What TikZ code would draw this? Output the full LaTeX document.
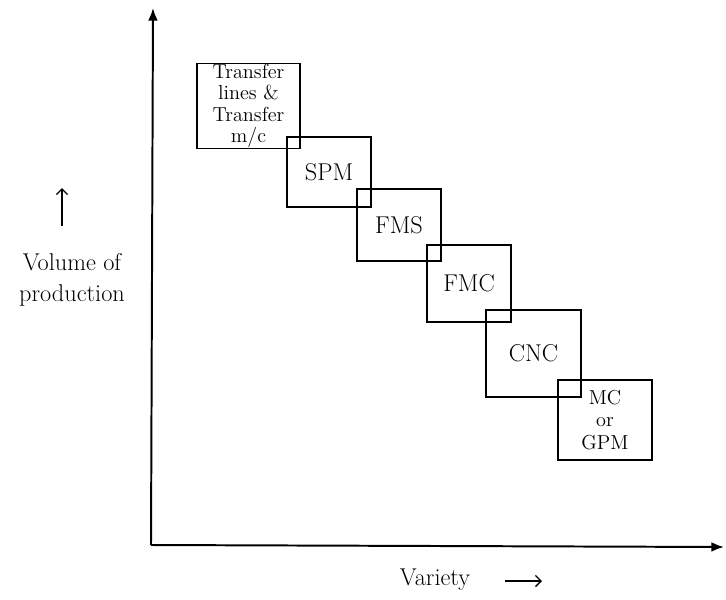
\documentclass[tikz,border=0pt]{standalone}
\usepackage{tikz}
\usetikzlibrary{arrows.meta,positioning,calc}

\begin{document}
\begin{tikzpicture}[
    x=0.25mm, y=-0.25mm,
    blk/.style={draw, line width=1.1pt, inner sep=0pt, align=center, font=\LARGE},
    axis/.style={-{Latex[length=9pt,width=7pt]}, line width=1.4pt},
    arr/.style={-{Straight Barb[length=4pt]}, line width=0.9pt},
    lbl/.style={align=center, font=\LARGE, inner sep=1pt}
]
\useasboundingbox (0,0) rectangle (726,600);

% axes
\coordinate (O) at (151,545);
\coordinate (ytop) at (153,8);
\coordinate (xend) at (724,547);
\draw[axis] (O) -- (ytop);
\draw[axis] (O) -- (xend);

% machine types
\node[blk, minimum width=25.75mm, minimum height=21.25mm, font=\Large\linespread{0.85}\selectfont] (tl) at (248.5,106) {Transfer\\lines \&\\Transfer\\m/c};
\node[blk, minimum width=21mm, minimum height=17.5mm] (spm) at (329,172) {SPM};
\node[blk, minimum width=21mm, minimum height=18mm] (fms) at (399,225) {FMS};
\node[blk, minimum width=21mm, minimum height=19.25mm] (fmc) at (469,283.5) {FMC};
\node[blk, minimum width=23.75mm, minimum height=21.75mm] (cnc) at (533.5,353.5) {CNC};
\node[blk, minimum width=23.5mm, minimum height=20mm, font=\Large\linespread{0.9}\selectfont] (mc) at (605,420) {MC\\or\\GPM};

% axis labels
\node[lbl] (vol) at (72,280) {Volume of\\production};
\coordinate (upS) at (62,226);
\coordinate (upE) at (62,188);
\draw[arr] (upS) -- (upE);

\node[lbl] (var) at (435,580) {Variety};
\coordinate (rtS) at (505,581);
\coordinate (rtE) at (542,581);
\draw[arr] (rtS) -- (rtE);
\end{tikzpicture}
\end{document}
